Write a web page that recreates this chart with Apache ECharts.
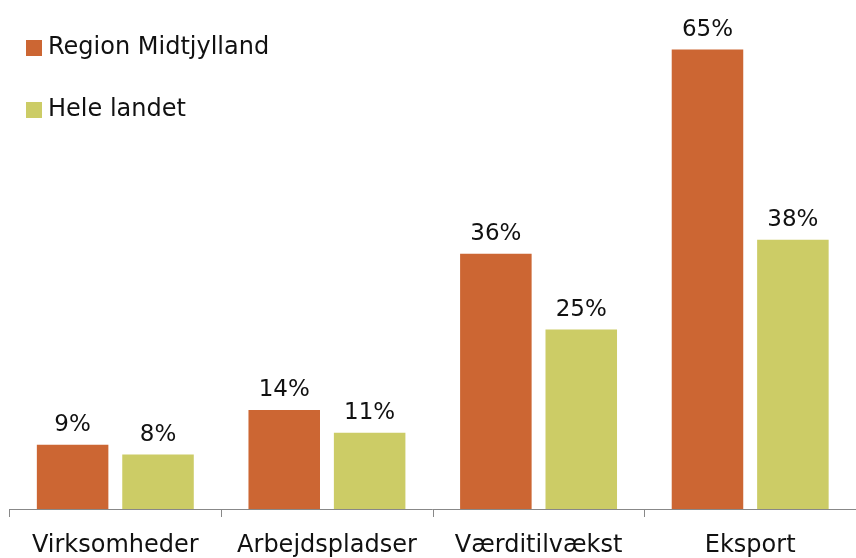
<!DOCTYPE html>
<html>
<head>
<meta charset="utf-8">
<script src="https://cdn.jsdelivr.net/npm/echarts@6/dist/echarts.min.js"></script>
<style>
  html, body { margin: 0; padding: 0; background: #fff; overflow: hidden; }
  #chart { width: 856px; height: 558px; overflow: hidden; }
</style>
</head>
<body>
<div id="chart"></div>
<script>
// kategorier og værdier
var categories = ['Virksomheder', 'Arbejdspladser', 'Værditilvækst', 'Eksport'];
var seriesNames = ['Region Midtjylland', 'Hele landet'];
var regionValues = [9.1, 14.0, 36.1, 65.0];
var landetValues = [7.7, 10.8, 25.4, 38.1];

var chart = echarts.init(document.getElementById('chart'));

var labelStyle = {
    show: true,
    position: 'top',
    distance: 8,
    fontFamily: 'DejaVu Sans',
    fontSize: 23,
    color: '#111',
    formatter: function (p) {
        return Math.round(p.value) + '%';
    }
};

var option = {
    backgroundColor: '#fff',
    animation: false,
    legend: {
        orient: 'vertical',
        left: 26,
        top: 36,
        padding: 0,
        itemWidth: 16,
        itemHeight: 16,
        itemGap: 38,
        icon: 'rect',
        textStyle: {
            fontFamily: 'DejaVu Sans',
            fontSize: 24,
            color: '#111',
            padding: [0, 0, 0, 1]
        },
        data: seriesNames
    },
    grid: {
        left: 9.5,
        top: 0,
        width: 853.5,
        bottom: 45.5
    },
    xAxis: {
        type: 'category',
        data: categories,
        axisLine: {
            lineStyle: { color: '#888', width: 1 }
        },
        axisTick: {
            show: true,
            length: 8,
            lineStyle: { color: '#888' }
        },
        axisLabel: {
            interval: 0,
            margin: 25,
            fontFamily: 'DejaVu Sans',
            fontSize: 24,
            color: '#111'
        }
    },
    yAxis: {
        type: 'value',
        min: 0,
        max: 72,
        show: false,
        splitLine: { show: false }
    },
    series: [
        {
            name: seriesNames[0],
            type: 'bar',
            data: regionValues,
            barWidth: '33.8%',
            barGap: '19.4%',
            itemStyle: { color: '#CC6633' },
            label: labelStyle
        },
        {
            name: seriesNames[1],
            type: 'bar',
            data: landetValues,
            barWidth: '33.8%',
            itemStyle: { color: '#CCCC66' },
            label: labelStyle
        }
    ]
};

chart.setOption(option);
</script>
</body>
</html>
